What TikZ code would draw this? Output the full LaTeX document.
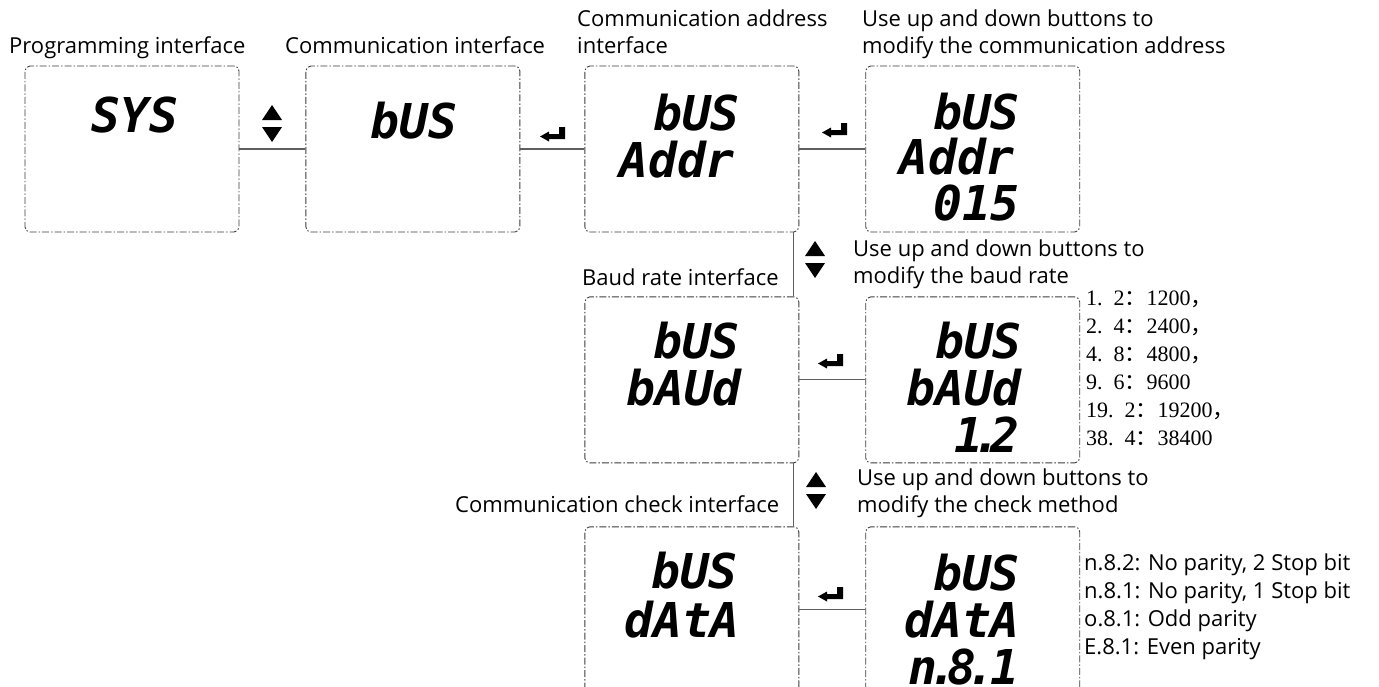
\documentclass[tikz,border=0pt]{standalone}
\usepackage{fontspec}
\setmainfont{Open Sans}
\newfontfamily\segfont{DejaVu Sans Mono Bold Oblique}
\newfontfamily\serfont{Liberation Serif}
\newfontfamily\cjk{Noto Sans CJK SC}
\usetikzlibrary{positioning}
\definecolor{framegray}{HTML}{3C3C3C}
\definecolor{linegray}{HTML}{5E5E5E}

\tikzset{
  enterkey/.pic={\fill (13,-7) -- (13,5) -- (-3,5) -- (-3,7.5) -- (-12,2.5) -- (-3,-2.5) -- (-3,0) -- (7,0) -- (7,-7) -- cycle;},
  updown/.pic={\fill (-10,-4) -- (10,-4) -- (0,-19) -- cycle; \fill (-10,3) -- (10,3) -- (0,18) -- cycle;}
}

\begin{document}
\begin{tikzpicture}[x=1pt,y=-1pt,
    lcd/.style={draw=framegray, line width=0.9pt, dash pattern=on 7pt off 2pt on 1.5pt off 2pt, rounded corners=5pt, minimum width=214pt, minimum height=166pt},
    seg/.style={font=\segfont\fontsize{48}{48}\selectfont, inner sep=0pt},
    caption/.style={font=\fontsize{22}{27}\selectfont, inner sep=0pt, align=left},
    rates/.style={font=\serfont\fontsize{22}{22}\selectfont, inner sep=0pt},
    link/.style={draw=linegray, line width=1.1pt}
  ]
  \useasboundingbox (0,0) rectangle (1379,686);

  % display frames
  \node[lcd] (sys) at (132,149) {};
  \node[lcd,right=66pt of sys] (bus) {};
  \node[lcd,right=64pt of bus] (addr) {};
  \node[lcd,right=66pt of addr] (addrset) {};
  \node[lcd,below=64pt of addr] (baud) {};
  \node[lcd,right=66pt of baud] (baudset) {};
  \node[lcd,below=63pt of baud] (check) {};
  \node[lcd,right=66pt of check] (checkset) {};

  % display contents
  \node[seg,anchor=base] (systxt) at (135,132) {SYS};
  \node[seg,anchor=base] (bustxt) at (414,138) {bUS};
  \node[seg,anchor=base east] (addrtxt1) at (740,130) {bUS};
  \node[seg,anchor=base east] (addrtxt2) at (735,177) {Addr};
  \node[seg,anchor=base east] (addrsettxt1) at (1020,129) {bUS};
  \node[seg,anchor=base east] (addrsettxt2) at (1015,174) {Addr};
  \node[seg,anchor=base east] (addrsettxt3) at (1020,220) {015};
  \node[seg,anchor=base east] (baudtxt1) at (740,358) {bUS};
  \node[seg,anchor=base east] (baudtxt2) at (742,405) {bAUd};
  \node[seg,anchor=base east] (baudsettxt1) at (1022,358) {bUS};
  \node[seg,anchor=base east] (baudsettxt2) at (1022,405) {bAUd};
  \node[seg,anchor=base east] (baudsettxt3) at (1020,452) {1\kern-.22em.\kern-.22em2};
  \node[seg,anchor=base east] (checktxt1) at (738,588) {bUS};
  \node[seg,anchor=base east] (checktxt2) at (740,637) {dAtA};
  \node[seg,anchor=base east] (checksettxt1) at (1020,590) {bUS};
  \node[seg,anchor=base east] (checksettxt2) at (1020,637) {dAtA};
  \node[seg,anchor=base east] (checksettxt3) at (1020,684) {n\kern-.2em.\kern-.2em8\kern-.2em.\kern-.1em1};

  % captions
  \node[caption,anchor=base west] (sysl) at (9,53) {Programming interface};
  \node[caption,anchor=base west] (busl) at (285,53) {Communication interface};
  \node[caption,anchor=north west] (addrl) at (577,9.5) {Communication address\\interface};
  \node[caption,anchor=north west] (addrsetl) at (862,9.5) {Use up and down buttons to\\modify the communication address};
  \node[caption,anchor=base west] (baudl) at (582,285) {Baud rate interface};
  \node[caption,anchor=north west] (baudsetl) at (853,239.5) {Use up and down buttons to\\modify the baud rate};
  \node[caption,anchor=base west] (checkl) at (455,512) {Communication check interface};
  \node[caption,anchor=north west] (checksetl) at (857,468.5) {Use up and down buttons to\\modify the check method};

  \foreach \txt [count=\i] in {{1.\enspace2{\cjk ：}1200{\cjk ，}}, {2.\enspace4{\cjk ：}2400{\cjk ，}},
      {4.\enspace8{\cjk ：}4800{\cjk ，}}, {9.\enspace6{\cjk ：}9600}, {19.\enspace2{\cjk ：}19200{\cjk ，}},
      {38.\enspace4{\cjk ：}38400}}
    \node[rates,anchor=base west] (rate\i) at (1086,{305+28*(\i-1)}) {\txt};

  \foreach \txt [count=\i] in {{n.8.2: No parity, 2 Stop bit}, {n.8.1: No parity, 1 Stop bit},
      {o.8.1: Odd parity}, {E.8.1: Even parity}}
    \node[caption,anchor=base west] (mode\i) at (1084,{570+28*(\i-1)}) {\txt};

  % connectors
  \draw[link] (sys) -- (bus);
  \draw[link] (bus) -- (addr);
  \draw[link] (addr) -- (addrset);
  \draw[link] (baud) -- (baudset);
  \draw[link] (check) -- (checkset);
  \draw[link] ([xshift=-6pt]addr.south east) -- ([xshift=-6pt]baud.north east);
  \draw[link] ([xshift=-6pt]baud.south east) -- ([xshift=-6pt]check.north east);

  % key symbols
  \pic at (272,124) {updown};
  \pic at (815,260) {updown};
  \pic at (816,491) {updown};
  \pic at (552,134) {enterkey};
  \pic at (834,130) {enterkey};
  \pic at (830,361) {enterkey};
  \pic at (830,594) {enterkey};
\end{tikzpicture}
\end{document}
